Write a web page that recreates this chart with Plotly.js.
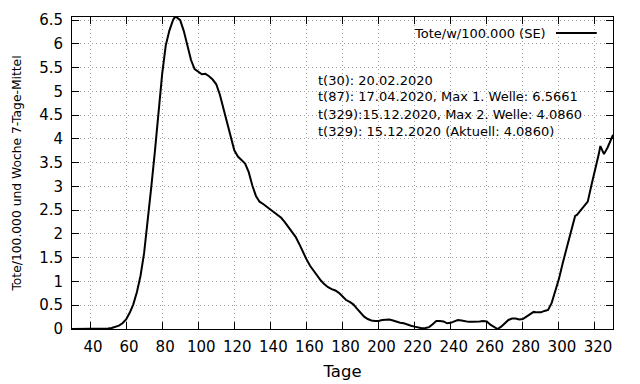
<!DOCTYPE html>
<html>
<head>
<meta charset="utf-8">
<script src="https://cdn.plot.ly/plotly-3.0.1.min.js"></script>
<style>
html,body{margin:0;padding:0;background:#fff;}
#chart{width:640px;height:384px;}
</style>
</head>
<body>
<div id="chart"></div>
<script>
// Data (day index, deaths per 100.000 per week, 7-day mean)
const days = [30,35,40,45,48,50,52,54,56,58,60,62,64,66,68,70,72,74,76,78,80,82,84,86,87,88,90,92,94,96,98,100,102,104,106,108,110,112,114,116,118,120,122,124,126,128,130,132,134,136,138,140,142,144,146,148,150,152,154,156,158,160,162,164,166,168,170,172,174,176,178,180,182,184,186,188,190,192,194,196,198,200,202,204,206,208,210,212,214,216,218,220,222,224,226,228,230,232,234,236,238,240,242,244,246,248,250,252,254,256,258,260,262,264,266,268,270,272,274,276,278,280,282,284,286,288,290,292,294,296,298,300,302,304,306,308,309,310,312,314,316,318,320,322,323,325,327,328,330];
const values = [0,0,0,0,0.005,0.01,0.02,0.04,0.07,0.12,0.2,0.34,0.52,0.78,1.12,1.6,2.27,3.0,3.75,4.57,5.37,5.97,6.28,6.5,6.5661,6.56,6.5,6.27,5.97,5.66,5.47,5.41,5.36,5.37,5.32,5.25,5.15,4.93,4.63,4.3,4.0,3.76,3.63,3.56,3.48,3.3,3.02,2.8,2.68,2.63,2.57,2.5,2.44,2.39,2.34,2.25,2.15,2.05,1.94,1.79,1.62,1.47,1.33,1.22,1.12,1.02,0.94,0.88,0.84,0.81,0.76,0.68,0.61,0.57,0.52,0.43,0.34,0.26,0.21,0.18,0.17,0.17,0.19,0.2,0.2,0.18,0.15,0.13,0.12,0.09,0.07,0.05,0.03,0.015,0.02,0.04,0.1,0.17,0.17,0.16,0.12,0.13,0.16,0.19,0.18,0.16,0.15,0.15,0.15,0.16,0.17,0.16,0.09,0.04,0.0,0.05,0.12,0.19,0.22,0.22,0.2,0.21,0.26,0.32,0.36,0.35,0.35,0.38,0.4,0.55,0.8,1.05,1.37,1.67,1.97,2.25,2.38,2.4,2.5,2.6,2.68,3.02,3.32,3.66,3.85,3.68,3.82,3.9,4.086];
const seriesName = "Tote/w/100.000 (SE)";
const xTickVals = [40,60,80,100,120,140,160,180,200,220,240,260,280,300,320];
const yTickVals = [0,0.5,1,1.5,2,2.5,3,3.5,4,4.5,5,5.5,6,6.5];
const yTickText = ["0","0.5","1","1.5","2","2.5","3","3.5","4","4.5","5","5.5","6","6.5"];
const infoLines = [
  "t(30): 20.02.2020",
  "t(87): 17.04.2020, Max 1. Welle: 6.5661",
  "t(329):15.12.2020, Max 2. Welle: 4.0860",
  "t(329): 15.12.2020 (Aktuell: 4.0860)"
];
const xTitle = "Tage";
const yTitle = "Tote/100.000 und Woche 7-Tage-Mittel";

const FONT = "DejaVu Sans, sans-serif";
const infoY = [0.798, 0.7436, 0.6891, 0.6346];

const annotations = infoLines.map((t, i) => ({
  xref: "paper", yref: "paper", x: 0.451, y: infoY[i],
  xanchor: "left", yanchor: "middle", showarrow: false,
  text: t, font: {family: FONT, size: 13, color: "#000"}
}));
annotations.push({
  xref: "paper", yref: "paper", x: 0.8799, y: 0.9487,
  xanchor: "right", yanchor: "middle", showarrow: false,
  text: seriesName, font: {family: FONT, size: 13, color: "#000"}
});

const axisCommon = {
  showline: true, linecolor: "#000", linewidth: 1, mirror: "allticks",
  ticks: "inside", ticklen: 7, tickcolor: "#000", tickwidth: 1,
  showgrid: true, gridcolor: "#a0a0a0", gridwidth: 1, griddash: "1px,3px",
  zeroline: false, tickfont: {family: FONT, size: 15, color: "#000"}
};

const layout = {
  width: 640, height: 384,
  margin: {l: 72, r: 27, t: 17, b: 55, pad: 0},
  paper_bgcolor: "#fff", plot_bgcolor: "#fff",
  showlegend: false,
  xaxis: Object.assign({}, axisCommon, {
    range: [30, 330], tickmode: "array", tickvals: xTickVals,
    ticklabelstandoff: 4, ticklabelshift: 3,
    title: {text: xTitle, font: {family: FONT, size: 16.5, color: "#000"}, standoff: 10}
  }),
  yaxis: Object.assign({}, axisCommon, {
    range: [0, 6.5661], tickmode: "array", tickvals: yTickVals, ticktext: yTickText,
    ticklabelstandoff: 5,
    title: {text: yTitle, font: {family: FONT, size: 12.3, color: "#000"}, standoff: 14}
  }),
  annotations: annotations,
  shapes: [{
    type: "line", xref: "paper", yref: "paper",
    x0: 0.8946, x1: 0.970, y0: 0.9487, y1: 0.9487,
    line: {color: "#000", width: 2}
  }]
};

const trace = {
  x: days, y: values, type: "scatter", mode: "lines", name: seriesName,
  line: {color: "#000", width: 2}
};

Plotly.newPlot("chart", [trace], layout, {staticPlot: true, displayModeBar: false});
</script>
</body>
</html>
